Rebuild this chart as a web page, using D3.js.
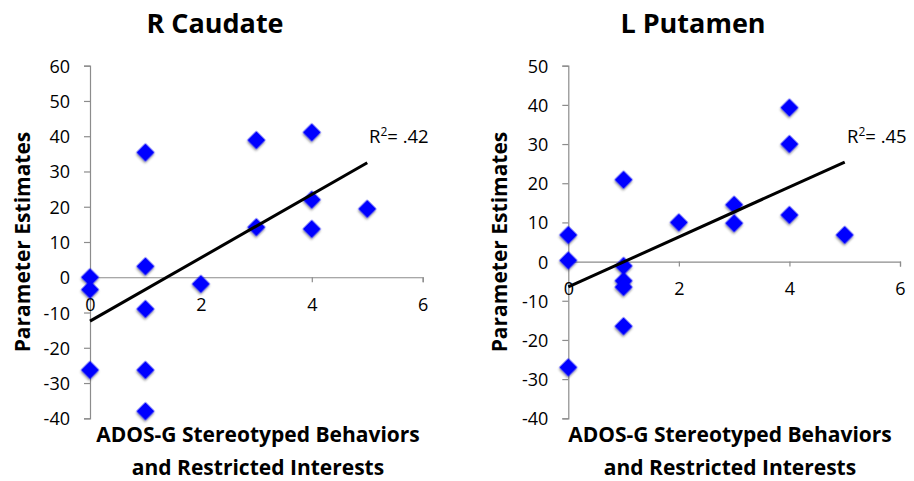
<!DOCTYPE html>
<html>
<head>
<meta charset="utf-8">
<script src="https://cdn.jsdelivr.net/npm/d3@7"></script>
<style>
  body { margin: 0; background: #fff; }
  svg { display: block; font-family: "Open Sans", Lato, sans-serif; }
  .axis path, .axis line { stroke: #8c8c8c; stroke-width: 1.2; }
  .axis text { font-family: "Open Sans", Lato, sans-serif; font-size: 18px; fill: #000; }
</style>
</head>
<body>
<div id="chart"></div>
<script>
// ADOS-G score (x) and parameter estimate (y), per region
const caudateX = [0, 0, 0, 1, 1, 1, 1, 1, 2, 3, 3, 4, 4, 4, 5];
const caudateY = [0, -3.5, -26.3, 35.4, 3.1, -9, -26.3, -38, -1.9, 38.9, 14.2, 41.1, 22, 13.7, 19.4];
const putamenX = [0, 0, 0, 1, 1, 1, 1, 1, 2, 3, 3, 4, 4, 4, 5];
const putamenY = [6.8, 0.3, -27, 20.9, -1.1, -4.9, -6.5, -16.5, 10, 14.5, 9.8, 39.3, 30, 11.9, 6.8];

const titles = ['R Caudate', 'L Putamen'];
const r2Labels = ['.42', '.45'];
const yDomains = [[-40, 60], [-40, 50]];
const xTicks = [0, 2, 4, 6];
const yLabel = 'Parameter Estimates';
const xLabelLines = ['ADOS-G Stereotyped Behaviors', 'and Restricted Interests'];

const width = 914, height = 481;

const svg = d3.select('#chart').append('svg')
  .attr('width', width)
  .attr('height', height);

const shadow = svg.append('defs').append('filter')
  .attr('id', 'shadow')
  .attr('x', '-50%').attr('y', '-50%')
  .attr('width', '200%').attr('height', '200%');
shadow.append('feDropShadow')
  .attr('dx', 1).attr('dy', 1.5)
  .attr('stdDeviation', 1.3)
  .attr('flood-color', '#000')
  .attr('flood-opacity', 0.45);

// panel placement: plot edges, y label x, title / x label / R2 positions
const panels = [
  { xs: caudateX, ys: caudateY, left: 90, right: 422.7, yLab: 30, titleX: 215, xLabX: 258, r2X: 369 },
  { xs: putamenX, ys: putamenY, left: 568.3, right: 900, yLab: 507, titleX: 693, xLabX: 730, r2X: 847 }
];
const plotTop = 65.7, plotBottom = 418.3;
const plain = d => String(d); // hyphen minus, no decimals

function fit(xs, ys) {
  const mx = d3.mean(xs), my = d3.mean(ys);
  const sxy = d3.sum(xs, (x, i) => (x - mx) * (ys[i] - my));
  const sxx = d3.sum(xs, x => (x - mx) * (x - mx));
  const b = sxy / sxx;
  return { a: my - b * mx, b: b };
}

panels.forEach((p, k) => {
  const g = svg.append('g');
  const x = d3.scaleLinear().domain([0, 6]).range([p.left, p.right]);
  const y = d3.scaleLinear().domain(yDomains[k]).range([plotBottom, plotTop]);

  g.append('g').attr('class', 'axis')
    .attr('transform', `translate(${p.left},0)`)
    .call(d3.axisLeft(y).ticks(10).tickFormat(plain).tickSize(6).tickSizeOuter(6).tickPadding(14))
    .call(s => s.selectAll('text').attr('dy', '0.36em'));

  g.append('g').attr('class', 'axis')
    .attr('transform', `translate(0,${y(0)})`)
    .call(d3.axisBottom(x).tickValues(xTicks).tickFormat(plain).tickSize(5).tickSizeOuter(5).tickPadding(16));

  const pts = p.xs.map((v, i) => [v, p.ys[i]]);
  g.selectAll('.dot')
    .data(pts)
    .join('path')
    .attr('class', 'dot')
    .attr('d', d3.symbol(d3.symbolSquare, 165))
    .attr('transform', d => `translate(${x(d[0])},${y(d[1])}) rotate(45)`)
    .attr('fill', '#0000ff')
    .attr('filter', 'url(#shadow)');

  const f = fit(p.xs, p.ys);
  const [x0, x1] = d3.extent(p.xs);
  g.append('line')
    .attr('x1', x(x0)).attr('y1', y(f.a + f.b * x0))
    .attr('x2', x(x1)).attr('y2', y(f.a + f.b * x1))
    .attr('stroke', '#000')
    .attr('stroke-width', 3);

  const r2 = g.append('text')
    .attr('x', p.r2X).attr('y', 143)
    .style('font-size', '18.5px');
  r2.append('tspan').text('R');
  r2.append('tspan').attr('dy', -7).style('font-size', '12px').text('2');
  r2.append('tspan').attr('dy', 7).text('= ' + r2Labels[k]);

  g.append('text')
    .attr('x', p.titleX).attr('y', 33)
    .attr('text-anchor', 'middle')
    .style('font-size', '27px').style('font-weight', 'bold')
    .text(titles[k]);

  g.append('text')
    .attr('transform', `translate(${p.yLab},242) rotate(-90)`)
    .attr('text-anchor', 'middle')
    .style('font-size', '21px').style('font-weight', 'bold')
    .text(yLabel);

  g.selectAll('.xlab')
    .data(xLabelLines)
    .join('text')
    .attr('class', 'xlab')
    .attr('x', p.xLabX)
    .attr('y', (d, i) => 441.7 + i * 33.3)
    .attr('text-anchor', 'middle')
    .style('font-size', '21px').style('font-weight', 'bold')
    .text(d => d);
});
</script>
</body>
</html>
